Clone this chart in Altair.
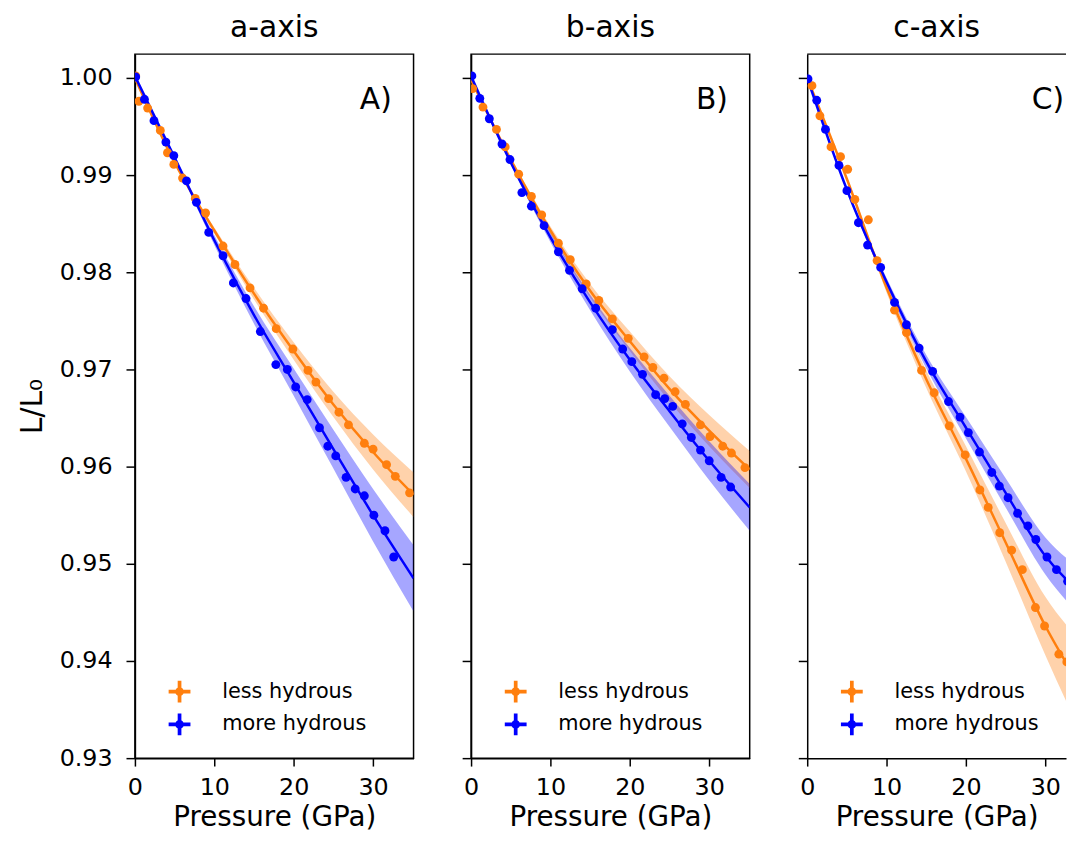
import altair as alt
import pandas as pd

FONT = "DejaVu Sans"
PANELS = ["a-axis", "b-axis", "c-axis"]
LETTERS = ["A)", "B)", "C)"]
SAMPLES = ["less hydrous", "more hydrous"]
COLORS = ["#ff7f0e", "#0000ff"]
Y_TICKS = [0.93, 0.94, 0.95, 0.96, 0.97, 0.98, 0.99, 1.00]
X_TICKS = [0, 10, 20, 30]

# ---- measured points (pressure GPa, L/L0) ----
a_less_P = [0.1, 0.5, 1.6, 3.2, 4.1, 4.9, 6.0, 7.6, 8.9, 11.1, 12.6, 14.5, 16.2, 17.8, 19.9,
            21.8, 22.8, 24.4, 25.7, 26.9, 28.9, 30.0, 31.7, 32.8, 34.6]
a_less_L = [1.0002, 0.9976, 0.9969, 0.9946, 0.9923, 0.9911, 0.9897, 0.9876, 0.9861, 0.9827,
            0.9808, 0.9784, 0.9763, 0.9742, 0.9721, 0.9699, 0.9687, 0.9670, 0.9656, 0.9643,
            0.9624, 0.9618, 0.9602, 0.9590, 0.9573]
a_more_P = [0.1, 1.2, 2.4, 3.9, 4.9, 6.5, 7.75, 9.3, 11.1, 12.4, 14.0, 15.8, 17.75, 19.2, 20.25,
            21.7, 23.25, 24.3, 25.3, 26.6, 27.75, 28.9, 30.1, 31.5, 32.6]
a_more_L = [1.0001, 0.9978, 0.9956, 0.9934, 0.9920, 0.9894, 0.9872, 0.9841, 0.9817, 0.9789,
            0.9773, 0.9739, 0.9705, 0.9700, 0.9682, 0.9669, 0.9640, 0.9621, 0.9611, 0.9589,
            0.9577, 0.9570, 0.9550, 0.9534, 0.9507]

b_less_P = [0.2, 1.5, 3.2, 4.3, 6.0, 7.6, 8.9, 11.0, 12.5, 14.5, 16.1, 17.8, 19.8, 21.8, 22.9,
            24.3, 25.7, 27.0, 28.9, 30.1, 31.7, 32.8, 34.5]
b_less_L = [0.9989, 0.9970, 0.9947, 0.9929, 0.9901, 0.9878, 0.9859, 0.9830, 0.9813, 0.9788,
            0.9771, 0.9752, 0.9732, 0.9713, 0.9702, 0.9691, 0.9677, 0.9664, 0.9643, 0.9631,
            0.9621, 0.9614, 0.9599]
b_more_P = [0.1, 1.1, 2.3, 3.9, 4.9, 6.4, 7.6, 9.2, 11.0, 12.4, 14.0, 15.7, 17.8, 19.1, 20.25,
            21.6, 23.25, 24.4, 25.4, 26.6, 27.75, 28.9, 30.0, 31.5, 32.7]
b_more_L = [1.0002, 0.9979, 0.9958, 0.9932, 0.9916, 0.9882, 0.9868, 0.9848, 0.9821, 0.9802,
            0.9783, 0.9763, 0.9741, 0.9721, 0.9708, 0.9695, 0.9674, 0.9670, 0.9662, 0.9644,
            0.9630, 0.9617, 0.9606, 0.9589, 0.9579]

c_less_P = [0.6, 1.6, 3.0, 4.2, 5.1, 6.0, 7.7, 8.8, 11.0, 12.5, 14.4, 16.0, 17.9, 19.9, 21.75,
            22.8, 24.25, 25.75, 27.1, 28.75, 29.9, 31.7, 32.7, 34.3]
c_less_L = [0.9992, 0.9961, 0.9929, 0.9919, 0.9906, 0.9875, 0.9854, 0.9812, 0.9761, 0.9738,
            0.9699, 0.9676, 0.9642, 0.9612, 0.9576, 0.9558, 0.9532, 0.9514, 0.9494, 0.9455,
            0.9436, 0.9407, 0.9399, 0.9376]
c_more_P = [0.1, 1.2, 2.3, 4.0, 5.0, 6.45, 7.6, 9.25, 11.0, 12.5, 14.1, 15.8, 17.8, 19.25, 20.3,
            21.7, 23.25, 24.2, 25.3, 26.5, 27.8, 28.8, 30.2, 31.4, 32.8, 34.0]
c_more_L = [0.9999, 0.9977, 0.9947, 0.9910, 0.9884, 0.9851, 0.9828, 0.9805, 0.9769, 0.9746,
            0.9722, 0.9698, 0.9667, 0.9651, 0.9635, 0.9615, 0.9594, 0.9580, 0.9568, 0.9552,
            0.9539, 0.9525, 0.9507, 0.9494, 0.9482, 0.9472]

# ---- fitted curves with confidence bands ----
fit_P = [0, 5, 10, 15, 20, 25, 30, 35.1]
a_less_fit = [1.0000, 0.9913, 0.9843, 0.9778, 0.9719, 0.9664, 0.9615, 0.9571]
a_less_up = [0, 0.0001, 0.0003, 0.0006, 0.0009, 0.0013, 0.0018, 0.0023]
a_less_dn = [0, 0.0001, 0.0003, 0.0006, 0.0009, 0.0013, 0.0018, 0.0023]
a_more_fit = [1.0002, 0.9918, 0.9833, 0.9756, 0.9687, 0.9618, 0.9550, 0.9485]
a_more_up = [0, 0.0002, 0.0005, 0.0009, 0.0014, 0.0020, 0.0027, 0.0034]
a_more_dn = [0, 0.0002, 0.0005, 0.0009, 0.0014, 0.0020, 0.0027, 0.0034]

b_less_fit = [0.9998, 0.9916, 0.9843, 0.9781, 0.9729, 0.9680, 0.9637, 0.9597]
b_less_up = [0, 0.0002, 0.0004, 0.0007, 0.0010, 0.0013, 0.0016, 0.0019]
b_less_dn = [0, 0.0002, 0.0004, 0.0007, 0.0010, 0.0013, 0.0016, 0.0019]
b_more_fit = [1.0002, 0.9913, 0.9836, 0.9769, 0.9710, 0.9657, 0.9606, 0.9558]
b_more_up = [0, 0.0002, 0.0005, 0.0008, 0.0012, 0.0016, 0.0020, 0.0024]
b_more_dn = [0, 0.0002, 0.0005, 0.0008, 0.0012, 0.0016, 0.0020, 0.0024]

c_less_fit = [1.0000, 0.9896, 0.9784, 0.9690, 0.9608, 0.9522, 0.9436, 0.9365]
c_less_up = [0, 0.0002, 0.0005, 0.0009, 0.0013, 0.0020, 0.0030, 0.0050]
c_less_dn = [0, 0.0002, 0.0005, 0.0009, 0.0013, 0.0020, 0.0030, 0.0050]
c_more_fit = [1.0000, 0.9885, 0.9790, 0.9708, 0.9640, 0.9573, 0.9508, 0.9466]
c_more_up = [0, 0.0002, 0.0004, 0.0007, 0.0011, 0.0015, 0.0019, 0.0025]
c_more_dn = [0, 0.0002, 0.0004, 0.0007, 0.0011, 0.0015, 0.0019, 0.0025]

point_sets = {
    ("a-axis", "less hydrous"): (a_less_P, a_less_L),
    ("a-axis", "more hydrous"): (a_more_P, a_more_L),
    ("b-axis", "less hydrous"): (b_less_P, b_less_L),
    ("b-axis", "more hydrous"): (b_more_P, b_more_L),
    ("c-axis", "less hydrous"): (c_less_P, c_less_L),
    ("c-axis", "more hydrous"): (c_more_P, c_more_L),
}
fit_sets = {
    ("a-axis", "less hydrous"): (a_less_fit, a_less_up, a_less_dn),
    ("a-axis", "more hydrous"): (a_more_fit, a_more_up, a_more_dn),
    ("b-axis", "less hydrous"): (b_less_fit, b_less_up, b_less_dn),
    ("b-axis", "more hydrous"): (b_more_fit, b_more_up, b_more_dn),
    ("c-axis", "less hydrous"): (c_less_fit, c_less_up, c_less_dn),
    ("c-axis", "more hydrous"): (c_more_fit, c_more_up, c_more_dn),
}

pt_rows = []
for (panel, sample), (ps, ls) in point_sets.items():
    for p, l in zip(ps, ls):
        pt_rows.append({"panel": panel, "sample": sample, "P": p, "L": l})
points = pd.DataFrame(pt_rows)

fit_rows = []
for (panel, sample), (fs, ups, dns) in fit_sets.items():
    for p, f, u, d in zip(fit_P, fs, ups, dns):
        fit_rows.append({"panel": panel, "sample": sample, "P": p, "fit": f,
                         "lo": f - d, "hi": f + u})
fits = pd.DataFrame(fit_rows)

PLUS = ("M-1,-0.17H1V0.17H-1Z M-0.17,-1H0.17V1H-0.17Z "
        "M0.4,0A0.4,0.4,0,1,1,-0.4,0A0.4,0.4,0,1,1,0.4,0Z")

H = 710
PX_PER_GPA = 281 / 35.1
WIDTHS = [281, 281, 261]


def panel_chart(idx):
    name = PANELS[idx]
    w = WIDTHS[idx]
    pts = points[points["panel"] == name]
    fit = fits[fits["panel"] == name]
    xs = alt.Scale(domain=[0, w / PX_PER_GPA], nice=False, zero=False)
    ys = alt.Scale(domain=[0.93, 1.00245], nice=False, zero=False)
    cs = alt.Scale(domain=SAMPLES, range=COLORS)
    xax = alt.Axis(values=X_TICKS, title="Pressure (GPa)", format="d", labelFlush=False)
    if idx == 0:
        yax = alt.Axis(values=Y_TICKS, format=".2f", title="L/L₀", labelFlush=False)
    else:
        yax = alt.Axis(values=Y_TICKS, labels=False, title=None)

    band = alt.Chart(fit).mark_area(opacity=0.35, clip=True, interpolate="monotone").encode(
        x=alt.X("P:Q", scale=xs, axis=xax),
        y=alt.Y("lo:Q", scale=ys, axis=yax),
        y2=alt.Y2("hi"),
        fill=alt.Fill("sample:N", scale=cs, legend=None),
    )
    line = alt.Chart(fit).mark_line(strokeWidth=2.5, clip=True, interpolate="monotone").encode(
        x=alt.X("P:Q", scale=xs, axis=xax),
        y=alt.Y("fit:Q", scale=ys, axis=yax),
        stroke=alt.Stroke("sample:N", scale=cs, legend=None),
    )
    dots = alt.Chart(pts).mark_circle(size=80, opacity=1, clip=True).encode(
        x=alt.X("P:Q", scale=xs, axis=xax),
        y=alt.Y("L:Q", scale=ys, axis=yax),
        color=alt.Color("sample:N", scale=cs, legend=None),
    )
    tag = alt.Chart(pd.DataFrame({"t": [LETTERS[idx]]})).mark_text(
        align="right", baseline="alphabetic", fontSize=30, font=FONT, color="black"
    ).encode(x=alt.value(259), y=alt.value(55), text="t:N")
    layers = [band, line, dots, tag]

    # legend (drawn in the lower-left corner of each panel)
    for k, (lab, col) in enumerate(zip(SAMPLES, COLORS)):
        row_y = 643 + 33 * k
        sym = alt.Chart(pd.DataFrame({"s": [lab]})).mark_point(
            shape=PLUS, filled=True, size=484, strokeWidth=0, opacity=1, color=col
        ).encode(x=alt.value(45), y=alt.value(row_y))
        txt = alt.Chart(pd.DataFrame({"s": [lab]})).mark_text(
            align="left", baseline="middle", fontSize=21, font=FONT, color="black"
        ).encode(x=alt.value(88), y=alt.value(row_y), text="s:N")
        layers += [sym, txt]

    props = dict(width=w, height=H, title=name)
    if idx == 2:
        top = alt.Chart(pd.DataFrame({"t": [0]})).mark_rule(color="black", strokeWidth=1.5).encode(
            x=alt.value(0), x2=alt.value(w), y=alt.value(0))
        layers.append(top)
        props["view"] = alt.ViewBackground(stroke="transparent")
    return alt.layer(*layers).properties(**props)


chart = (
    alt.hconcat(*[panel_chart(i) for i in range(3)], spacing=46)
    .resolve_scale(x="independent", y="independent", color="independent",
                   fill="independent", stroke="independent")
    .resolve_axis(x="independent", y="independent")
    .properties(padding={"left": 8, "top": 0, "right": 0, "bottom": 0})
    .configure_axis(labelFont=FONT, titleFont=FONT, labelFontSize=24, titleFontSize=30,
                    titleFontWeight="normal", labelColor="black", titleColor="black",
                    domainColor="black", tickColor="black", domainWidth=1.5, tickWidth=1.5,
                    grid=False)
    .configure_axisX(tickSize=8, labelPadding=10, titlePadding=4, titleFontSize=28)
    .configure_axisY(tickSize=9, labelPadding=14, titlePadding=12)
    .configure_view(stroke="black", strokeWidth=1.5)
    .configure_title(font=FONT, fontSize=30, fontWeight="normal", color="black", offset=11)
)

chart.save("out.html", embed_options={"renderer": "svg", "actions": False})
